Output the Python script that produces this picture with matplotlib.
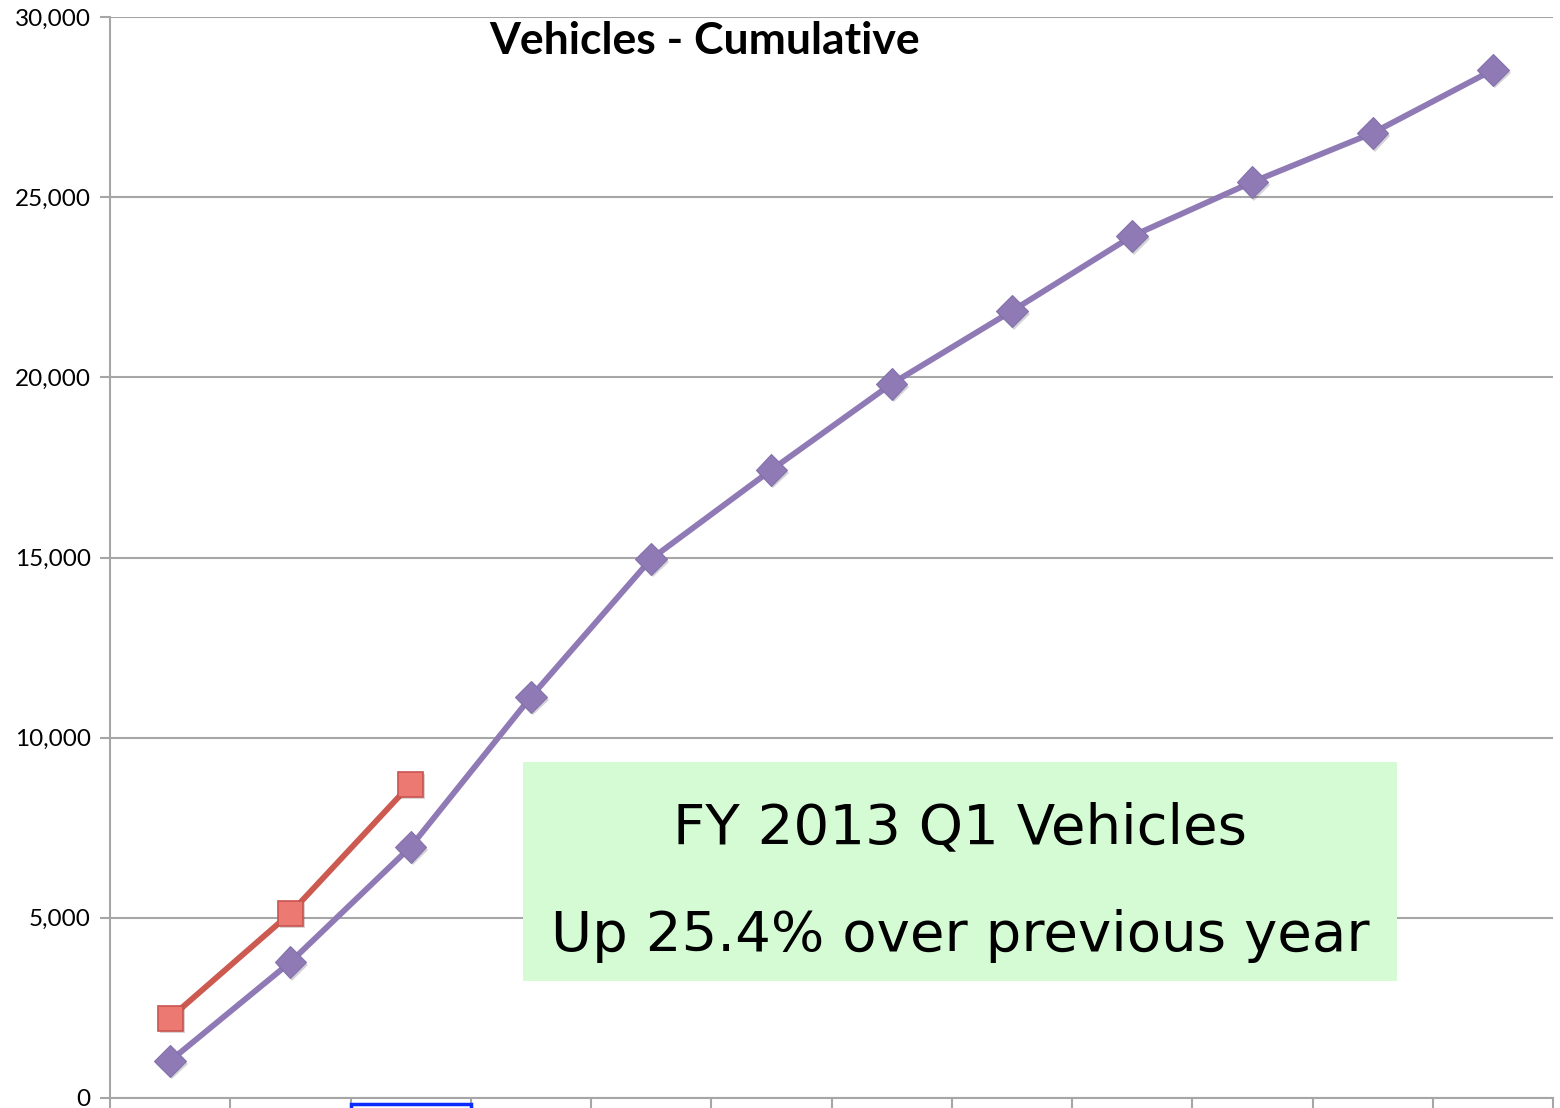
import matplotlib
matplotlib.use("Agg")
import matplotlib.pyplot as plt
from matplotlib.patches import Rectangle
from matplotlib.ticker import FuncFormatter, MultipleLocator
import matplotlib.patheffects as pe

# Data
months = ["M1", "M2", "M3", "M4", "M5", "M6", "M7", "M8", "M9", "M10", "M11", "M12"]
prev_year = [1030, 3770, 6970, 11130, 14960, 17430, 19820, 21840, 23920, 25420, 26780, 28530]
curr_year = [2220, 5130, 8710]
title = "Vehicles - Cumulative"
note_lines = ["FY 2013 Q1 Vehicles", "Up 25.4% over previous year"]

fig = plt.figure(figsize=(15.6, 11.08), dpi=100)
ax = fig.add_axes([110/1560, 10/1108, 1443/1560, 1081/1108])

x_prev = list(range(len(prev_year)))
x_curr = list(range(len(curr_year)))

grid_c = "#a6a6a6"
purple = "#8f7ab5"
red = "#cc5a50"

shadow = [pe.SimplePatchShadow(offset=(1.5, -2), alpha=0.2), pe.Normal()]

ax.plot(x_prev, prev_year, color=purple, lw=4.2, zorder=3, solid_capstyle="round")
ax.plot(x_prev, prev_year, linestyle="none", marker="D", markersize=16,
        markerfacecolor=purple, markeredgecolor="#8372ab", markeredgewidth=0.8,
        zorder=4, path_effects=shadow)
ax.plot(x_curr, curr_year, color=red, lw=4.2, zorder=3, solid_capstyle="round")
ax.plot(x_curr, curr_year, linestyle="none", marker="s", markersize=18,
        markerfacecolor="#ec7a72", markeredgecolor="#c85450", markeredgewidth=1.2,
        zorder=5, path_effects=shadow)

ax.set_xlim(-0.5, len(months) - 0.5)
ax.set_ylim(0, 30000)
ax.yaxis.set_major_locator(MultipleLocator(5000))
ax.yaxis.set_major_formatter(FuncFormatter(lambda v, p: f"{int(v):,}"))
ax.set_xticks([i - 0.5 for i in range(len(months) + 1)])
ax.set_xticklabels([])
ax.grid(axis="y", color=grid_c, lw=1.5)
ax.set_axisbelow(True)
for s in ["top", "right"]:
    ax.spines[s].set_visible(False)
for s in ["left", "bottom"]:
    ax.spines[s].set_color(grid_c)
    ax.spines[s].set_linewidth(1.5)
ax.tick_params(axis="y", length=7, width=1.5, color=grid_c, labelsize=17.5, pad=7)
ax.tick_params(axis="x", length=10, width=1.5, color=grid_c)
for lab in ax.get_yticklabels():
    lab.set_family("Lato")

fig.text(705/1560, 1 - 41/1108, title, ha="center", va="center",
         fontsize=32, fontweight="bold", family="Lato")

# Note box
fig.patches.append(Rectangle((523/1560, 1 - 981/1108), (1397-523)/1560, (981-762)/1108,
                             transform=fig.transFigure, facecolor="#d4fbd4",
                             edgecolor="none", zorder=6))
fig.text(960/1560, 1 - 828/1108, note_lines[0], ha="center", va="center",
         fontsize=40.5, family="DejaVu Sans", zorder=7)
fig.text(960/1560, 1 - 936/1108, note_lines[1], ha="center", va="center",
         fontsize=40.5, family="DejaVu Sans", zorder=7)

# Selection box at bottom
fig.patches.append(Rectangle((351/1560, -10/1108), (471-351)/1560, 14/1108,
                             transform=fig.transFigure, facecolor="none",
                             edgecolor="#0a2cff", lw=2.5, zorder=8))

fig.savefig("out.png", dpi=100)
